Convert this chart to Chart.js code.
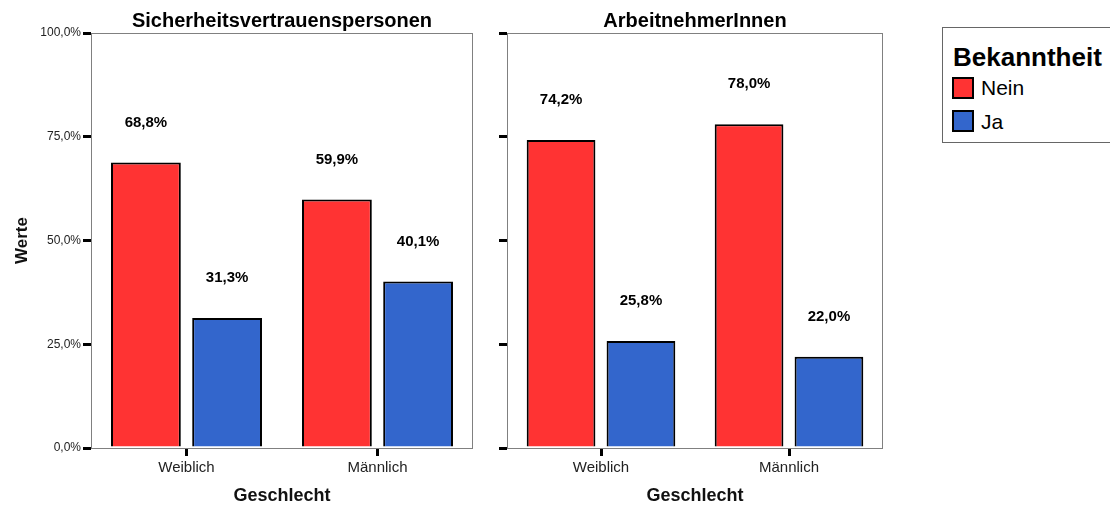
<!DOCTYPE html>
<html>
<head>
<meta charset="utf-8">
<title>Bekanntheit</title>
<script src="https://cdn.jsdelivr.net/npm/chart.js@4.4.0/dist/chart.umd.min.js"></script>
<style>
  body { margin: 0; background: #fff; font-family: "Liberation Sans", Arial, sans-serif; }
  #wrap { position: relative; width: 1110px; height: 507px; overflow: hidden; }
  #c1 { position: absolute; left: 0; top: 0; }
  #c2 { position: absolute; left: 480px; top: 0; }
  #legenda { position: absolute; left: 942px; top: 27px; width: 172px; height: 116px; border: 1.5px solid #666; box-sizing: border-box; }
  #legenda .tit { position: absolute; left: 10px; top: 14px; font-size: 26px; font-weight: bold; color: #000; line-height: 30px; }
  #legenda .sw { position: absolute; left: 9px; width: 22px; height: 22px; border: 2px solid #000; box-sizing: border-box; }
  #legenda .lab { position: absolute; left: 38px; font-size: 21px; color: #000; line-height: 24px; }
</style>
</head>
<body>
<div id="wrap">
  <canvas id="c1" width="480" height="507"></canvas>
  <canvas id="c2" width="450" height="507"></canvas>
  <div id="legenda">
    <div class="tit">Bekanntheit</div>
    <div class="sw" style="top:49px;background:#ff3333"></div>
    <div class="lab" style="top:48px">Nein</div>
    <div class="sw" style="top:82px;background:#3366cc"></div>
    <div class="lab" style="top:82px">Ja</div>
  </div>
</div>
<script>
// dati
var categorie = ['Weiblich', 'Männlich'];
var serie = ['Nein', 'Ja'];
var svpNein = [68.8, 59.9];
var svpJa = [31.3, 40.1];
var anNein = [74.2, 78.0];
var anJa = [25.8, 22.0];
var titoli = ['Sicherheitsvertrauenspersonen', 'ArbeitnehmerInnen'];
var colori = ['#ff3333', '#3366cc'];

var font = '"Liberation Sans", Arial, sans-serif';

function formatta(v) {
  return v.toFixed(1).replace('.', ',') + '%';
}

// cornice, titolo pannello ed etichette sopra le barre
var pluginPannello = {
  id: 'pannello',
  beforeDatasetsDraw: function(chart) {
    var a = chart.chartArea;
    var ctx = chart.ctx;
    ctx.save();
    ctx.strokeStyle = '#808080';
    ctx.lineWidth = 1;
    ctx.strokeRect(a.left + 0.5, a.top + 0.5, a.right - a.left - 1, a.bottom - a.top);
    ctx.restore();
  },
  afterDatasetsDraw: function(chart) {
    var a = chart.chartArea;
    var ctx = chart.ctx;
    ctx.save();
    ctx.fillStyle = '#000';
    ctx.textAlign = 'center';
    ctx.textBaseline = 'alphabetic';
    ctx.font = 'bold 20px ' + font;
    ctx.fillText(chart.options.plugins.pannello.titolo, (a.left + a.right) / 2, 27);
    ctx.font = 'bold 15px ' + font;
    ctx.textBaseline = 'middle';
    chart.data.datasets.forEach(function(ds, i) {
      var meta = chart.getDatasetMeta(i);
      meta.data.forEach(function(el, j) {
        ctx.fillText(formatta(ds.data[j]), el.x, el.y - 40);
      });
    });
    ctx.restore();
  }
};

function grafico(id, nein, ja, titolo, conEtichette, padDestra) {
  var ctx = document.getElementById(id);
  return new Chart(ctx, {
    type: 'bar',
    data: {
      labels: categorie,
      datasets: [{
        label: serie[0],
        data: nein,
        backgroundColor: colori[0],
        borderColor: '#000',
        borderWidth: 2
      }, {
        label: serie[1],
        data: ja,
        backgroundColor: colori[1],
        borderColor: '#000',
        borderWidth: 2
      }]
    },
    plugins: [pluginPannello],
    options: {
      responsive: false,
      animation: false,
      categoryPercentage: 0.85,
      barPercentage: 0.86,
      layout: { padding: { top: 33, left: 0, right: padDestra, bottom: 0 } },
      plugins: {
        legend: { display: false },
        tooltip: { enabled: false },
        pannello: { titolo: titolo }
      },
      scales: {
        x: {
          grid: { offset: false, drawOnChartArea: false, color: '#000', lineWidth: 3, tickLength: 8 },
          border: { display: false },
          ticks: { color: '#222', padding: 3, font: { family: font, size: 15 } },
          title: { display: true, text: 'Geschlecht', color: '#111', padding: { top: 0, bottom: 0 }, font: { family: font, size: 18, weight: 'bold' } },
          afterFit: function(s) { s.height = 59; }
        },
        y: {
          min: 0,
          max: 100,
          grid: { drawOnChartArea: false, color: '#000', lineWidth: 3, tickLength: 8 },
          border: { display: false },
          ticks: {
            display: conEtichette,
            stepSize: 25,
            padding: 2,
            color: '#222',
            font: { family: font, size: 12 },
            callback: function(v) { return formatta(v); }
          },
          title: { display: conEtichette, text: 'Werte', color: '#111', padding: { top: 12, bottom: 0 }, font: { family: font, size: 17, weight: 'bold' } },
          afterFit: function(s) { s.width = conEtichette ? 91 : 27; }
        }
      }
    }
  });
}

grafico('c1', svpNein, svpJa, titoli[0], true, 7);
grafico('c2', anNein, anJa, titoli[1], false, 47);
</script>
</body>
</html>
